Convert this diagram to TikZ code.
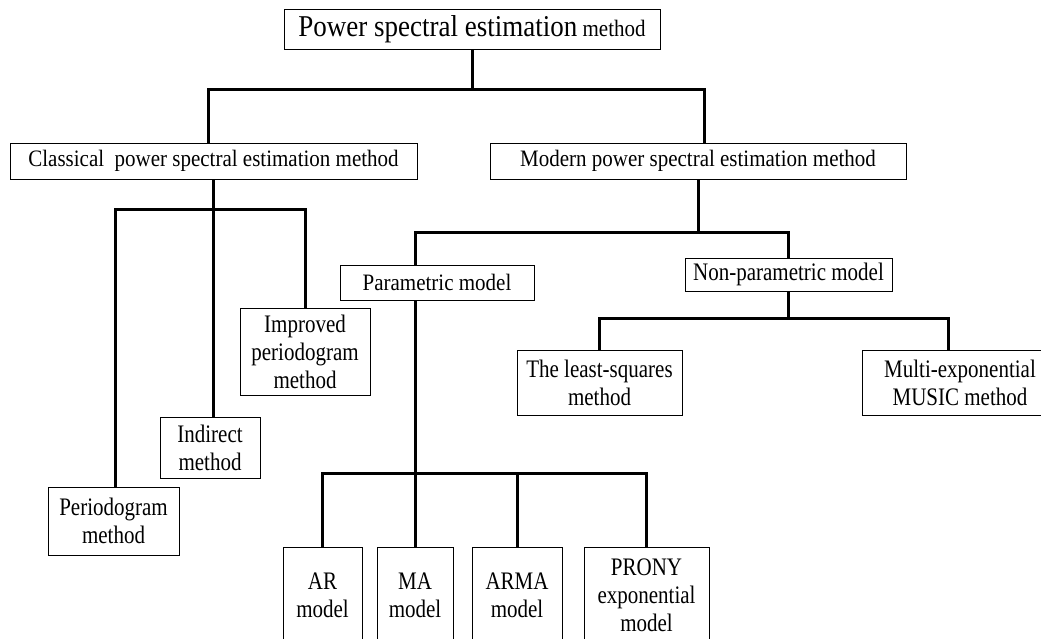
\documentclass[tikz,border=0pt]{standalone}
\usepackage{graphicx}
\usepackage{fontspec}
\setmainfont{Liberation Serif}
\newcommand\vs[1]{\scalebox{1}[1.2]{#1}}
\newcommand\vt[1]{\scalebox{1}[1.12]{#1}}
\begin{document}
\begin{tikzpicture}[x=1pt,y=-1pt,
  box/.style={draw, line width=0.8pt, inner sep=0pt, align=center,
    font=\fontsize{21}{28}\selectfont},
  conn/.style={line width=3pt, line join=miter}]
\useasboundingbox (0,0) rectangle (1041,639);
\clip (0,0) rectangle (1041,639);
\fill[white] (0,0) rectangle (1041,639);
% nodes
\node[box, minimum width=376pt, minimum height=40pt] (top) at (472,29)
  {\vt{{\fontsize{27}{30}\selectfont Power spectral estimation} method}};
\node[box, minimum width=407pt, minimum height=36pt] (classical) at (213.5,161)
  {\vt{Classical\ \ power spectral estimation method}};
\node[box, minimum width=416pt, minimum height=36pt] (modern) at (698,161)
  {\vt{Modern power spectral estimation method}};
\node[box, minimum width=131pt, minimum height=68pt] (perio) at (113.5,521)
  {\vs{Periodogram}\\\vs{method}};
\node[box, minimum width=100pt, minimum height=61pt] (indirect) at (210,447.5)
  {\vs{Indirect}\\\vs{method}};
\node[box, minimum width=130pt, minimum height=87pt] (improved) at (305,351.5)
  {\vs{Improved}\\\vs{periodogram}\\\vs{method}};
\node[box, minimum width=194pt, minimum height=35pt] (para) at (437,282.5)
  {\vt{Parametric model}};
\node[box, minimum width=207pt, minimum height=33pt] (nonpar) at (788.5,274.5)
  {\vs{Non-parametric model}};
\node[box, minimum width=165pt, minimum height=65pt] (lsq) at (599.5,382.5)
  {\vs{The least-squares}\\\vs{method}};
\node[box, minimum width=196pt, minimum height=65pt] (multi) at (960,382.5)
  {\vs{Multi-exponential}\\\vs{MUSIC method}};
\node[box, minimum width=79pt, minimum height=96pt] (ar) at (322.5,595)
  {\vs{AR}\\\vs{model}};
\node[box, minimum width=76pt, minimum height=96pt] (ma) at (415,595)
  {\vs{MA}\\\vs{model}};
\node[box, minimum width=90pt, minimum height=96pt] (arma) at (517,595)
  {\vs{ARMA}\\\vs{model}};
\node[box, minimum width=125pt, minimum height=96pt] (prony) at (646.5,595)
  {\vs{PRONY}\\\vs{exponential}\\\vs{model}};
% junctions
\coordinate (j0) at (470,90);
\coordinate (c1) at (213,210);
\coordinate (m1) at (698,232);
\coordinate (n1) at (788,318);
\coordinate (p1) at (415,473);
% connectors
\draw[conn] (top.south) -- (top.south |- j0);
\draw[conn] ([xshift=-5.5pt]classical.north) |- (j0) -| ([xshift=6pt]modern.north);
\draw[conn] (classical.south) -- (classical.south |- c1);
\draw[conn] ([xshift=1.5pt]perio.north) |- (c1) -| (improved.north);
\draw[conn] ([xshift=3pt]indirect.north) -- ([xshift=3pt]indirect.north |- c1);
\draw[conn] (modern.south) -- (modern.south |- m1);
\draw[conn] ([xshift=-22pt]para.north) |- (m1) -| (nonpar.north);
\draw[conn] (nonpar.south) -- (nonpar.south |- n1);
\draw[conn] (lsq.north) |- (n1) -| ([xshift=-12pt]multi.north);
\draw[conn] ([xshift=-22pt]para.south) -- (p1);
\draw[conn] (ar.north) |- (p1) -| (prony.north);
\draw[conn] (ma.north) -- (ma.north |- p1);
\draw[conn] (arma.north) -- (arma.north |- p1);
\end{tikzpicture}
\end{document}
